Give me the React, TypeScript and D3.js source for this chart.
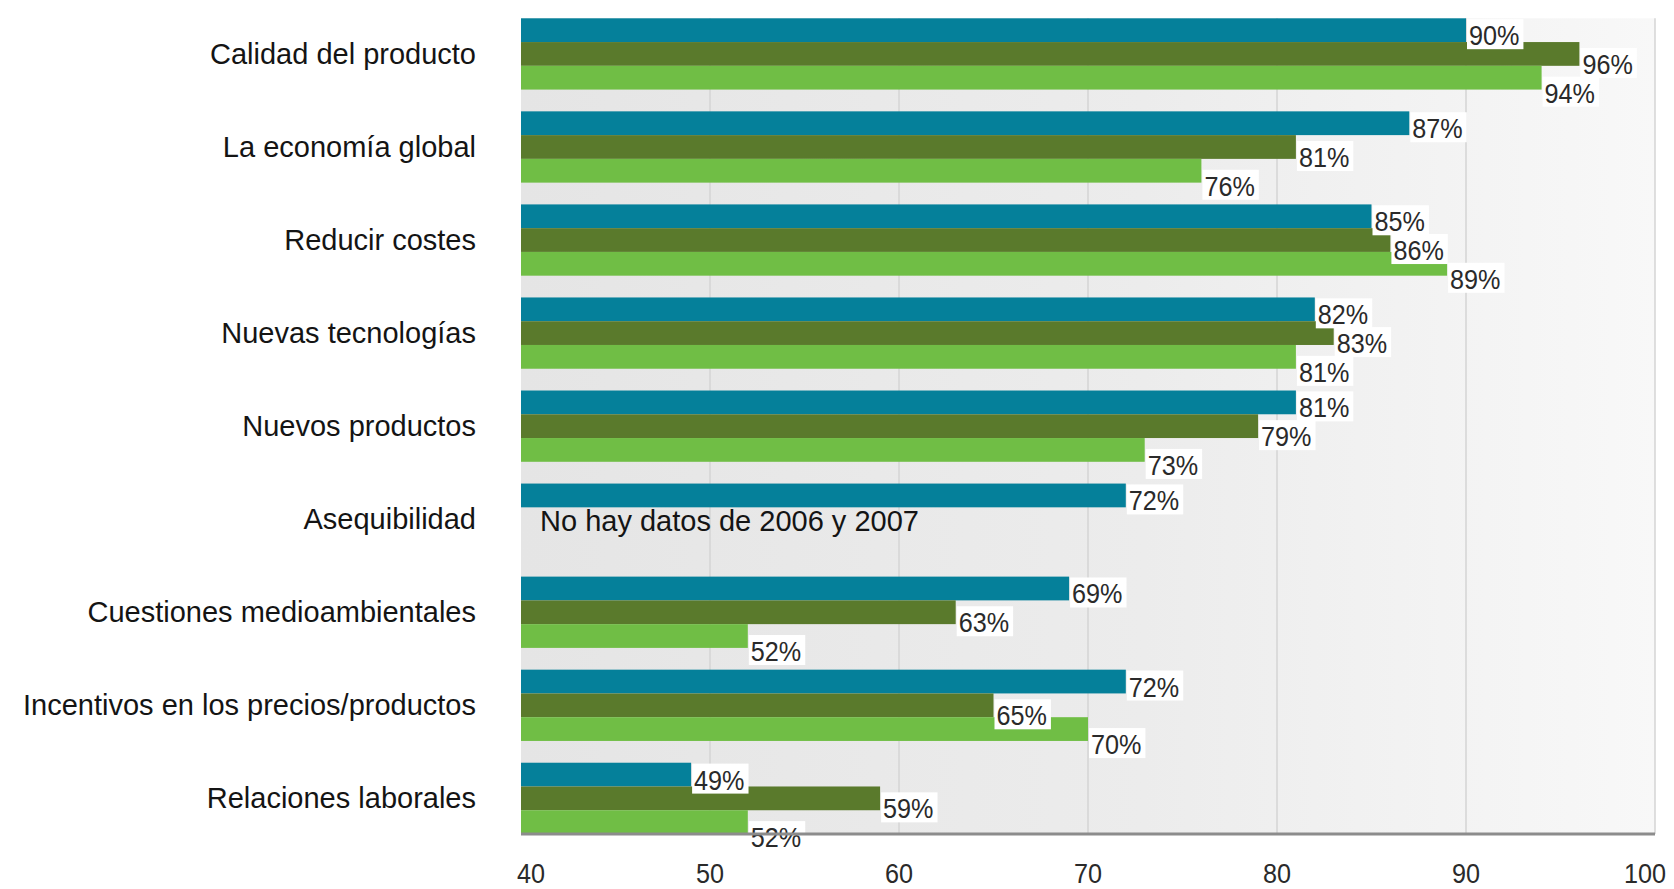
import React, { useEffect } from 'react';
import * as d3 from 'd3';

const categories = [
  'Calidad del producto',
  'La economía global',
  'Reducir costes',
  'Nuevas tecnologías',
  'Nuevos productos',
  'Asequibilidad',
  'Cuestiones medioambientales',
  'Incentivos en los precios/productos',
  'Relaciones laborales',
];
const seriesNames = ['2008', '2007', '2006'];
const values2008: (number | null)[] = [90, 87, 85, 82, 81, 72, 69, 72, 49];
const values2007: (number | null)[] = [96, 81, 86, 83, 79, null, 63, 65, 59];
const values2006: (number | null)[] = [94, 76, 89, 81, 73, null, 52, 70, 52];
const xTicks = [40, 50, 60, 70, 80, 90, 100];
const noDataNote = 'No hay datos de 2006 y 2007';
const noDataCategory = 'Asequibilidad';

const seriesValues = [values2008, values2007, values2006];
const seriesColors = ['#05809a', '#5a7a2c', '#70be45'];
const labelOffsets = [5, 10, 15];

const W = 1674;
const H = 889;
const plotLeft = 521;
const plotRight = 1655;
const plotTop = 18.3;
const plotBottom = 834;
const FONT = '"Liberation Sans", Arial, Helvetica, sans-serif';

export default function App() {
  useEffect(() => {
    document.body.style.margin = '0';
  }, []);

  const x = d3.scaleLinear().domain([40, 100]).range([plotLeft, plotRight]);
  const y = d3
    .scaleBand<string>()
    .domain(categories)
    .range([plotTop, plotBottom])
    .paddingInner(0.234)
    .paddingOuter(0);
  const ySub = d3
    .scaleBand<string>()
    .domain(seriesNames)
    .range([0, y.bandwidth()])
    .padding(0);

  const valueFont = 28;
  const valueScale = 0.9;
  const charW = (s: string) =>
    s.split('').reduce((a, c) => a + (c === '%' ? 0.889 : 0.556), 0) * valueFont * valueScale;

  const bars: JSX.Element[] = [];
  const labels: JSX.Element[] = [];
  categories.forEach((cat, ci) => {
    seriesNames.forEach((sn, si) => {
      const v = seriesValues[si][ci];
      if (v == null) return;
      const y0 = (y(cat) as number) + (ySub(sn) as number);
      const h = ySub.bandwidth();
      bars.push(
        <rect
          key={`b-${ci}-${si}`}
          x={x(40)}
          y={y0}
          width={x(v) - x(40)}
          height={h}
          fill={seriesColors[si]}
        />
      );
      const text = `${v}%`;
      const cy = y0 + h / 2 + labelOffsets[si];
      const tx = x(v) + 3;
      const tw = charW(text);
      labels.push(
        <g key={`l-${ci}-${si}`}>
          <rect x={tx - 2} y={cy - 16} width={tw + 6} height={30} fill="#ffffff" />
          <text
            transform={`translate(${tx},${cy + 10}) scale(${valueScale},1)`}
            fontFamily={FONT}
            fontSize={valueFont}
            fill="#2a2a2a"
          >
            {text}
          </text>
        </g>
      );
    });
  });

  const noteY = (y(noDataCategory) as number) + (ySub('2007') as number) + ySub.bandwidth();

  return (
    <svg width={W} height={H} style={{ display: 'block', background: '#ffffff' }}>
      <defs>
        <linearGradient id="bgGrad" x1="0" x2="1" y1="0" y2="0">
          <stop offset="0%" stopColor="#e5e5e5" />
          <stop offset="55%" stopColor="#ececec" />
          <stop offset="100%" stopColor="#f8f8f8" />
        </linearGradient>
      </defs>
      <rect
        x={plotLeft}
        y={plotTop}
        width={plotRight - plotLeft}
        height={plotBottom - plotTop}
        fill="url(#bgGrad)"
      />
      {xTicks.slice(1).map((t) => (
        <line
          key={`g-${t}`}
          x1={x(t)}
          x2={x(t)}
          y1={plotTop}
          y2={plotBottom}
          stroke="#d4d4d4"
          strokeWidth={1.5}
        />
      ))}
      {bars}
      {labels}
      <line
        x1={plotLeft}
        x2={plotRight}
        y1={plotBottom}
        y2={plotBottom}
        stroke="#8c8c8c"
        strokeWidth={3}
      />
      {xTicks.map((t) => (
        <text
          key={`t-${t}`}
          transform={`translate(${Math.min(Math.max(x(t), plotLeft + 10), plotRight - 10)},${883}) scale(0.9,1)`}
          textAnchor="middle"
          fontFamily={FONT}
          fontSize={28}
          fill="#2a2a2a"
        >
          {t}
        </text>
      ))}
      {categories.map((c) => (
        <text
          key={`c-${c}`}
          x={476}
          y={(y(c) as number) + y.bandwidth() / 2 + 10}
          textAnchor="end"
          fontFamily={FONT}
          fontSize={29}
          fill="#141414"
        >
          {c}
        </text>
      ))}
      <text
        x={plotLeft + 19}
        y={noteY}
        fontFamily={FONT}
        fontSize={29}
        fill="#141414"
      >
        {noDataNote}
      </text>
    </svg>
  );
}
